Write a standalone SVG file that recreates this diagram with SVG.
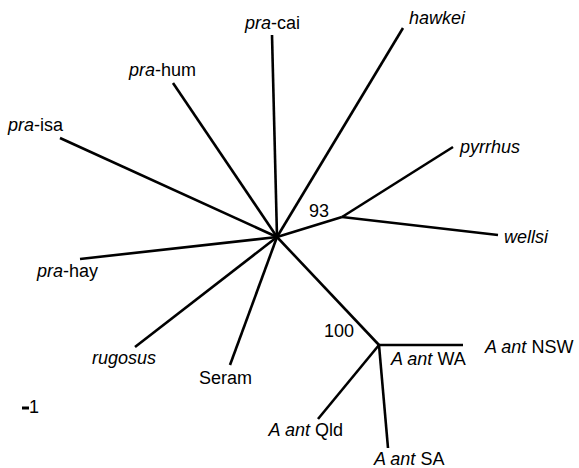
<svg xmlns="http://www.w3.org/2000/svg" width="579" height="468" viewBox="0 0 579 468">
<style>
.e{stroke:#000;stroke-width:2.6;stroke-linecap:butt;fill:none}
text{font-family:"Liberation Sans",Arial,sans-serif;font-size:18px;fill:#000}
.i{font-style:italic}
</style>
<rect width="579" height="468" fill="#fff"/>
<g id="connectors">
<line class="e" x1="277" y1="237" x2="272" y2="35"/>
<line class="e" x1="277" y1="237" x2="173" y2="83"/>
<line class="e" x1="277" y1="237" x2="60" y2="138"/>
<line class="e" x1="277" y1="237" x2="403" y2="28"/>
<line class="e" x1="277" y1="237" x2="342" y2="217"/>
<line class="e" x1="342" y1="217" x2="453" y2="147"/>
<line class="e" x1="342" y1="217" x2="498" y2="235"/>
<line class="e" x1="277" y1="237" x2="80" y2="259"/>
<line class="e" x1="277" y1="237" x2="135" y2="347"/>
<line class="e" x1="277" y1="237" x2="230" y2="365"/>
<line class="e" x1="277" y1="237" x2="379" y2="345"/>
<line class="e" x1="379" y1="345" x2="463" y2="345"/>
<line class="e" x1="379" y1="345" x2="318" y2="419"/>
<line class="e" x1="379" y1="345" x2="388" y2="448"/>
</g>
<g id="pra-cai"><text x="245" y="29"><tspan class="i">pra</tspan>-cai</text></g>
<g id="pra-hum"><text x="129" y="76"><tspan class="i">pra</tspan>-hum</text></g>
<g id="pra-isa"><text x="8" y="131"><tspan class="i">pra</tspan>-isa</text></g>
<g id="hawkei"><text x="409" y="24" class="i">hawkei</text></g>
<g id="pyrrhus"><text x="460" y="153" class="i">pyrrhus</text></g>
<g id="wellsi"><text x="504" y="243" class="i">wellsi</text></g>
<g id="node93"><text x="309" y="217">93</text></g>
<g id="pra-hay"><text x="37" y="277"><tspan class="i">pra</tspan>-hay</text></g>
<g id="rugosus"><text x="92" y="364" class="i">rugosus</text></g>
<g id="seram"><text x="199" y="384">Seram</text></g>
<g id="node100"><text x="324" y="337">100</text></g>
<g id="aant-wa"><text x="391" y="365"><tspan class="i">A ant</tspan> WA</text></g>
<g id="aant-nsw"><text x="485" y="353"><tspan class="i">A ant</tspan> NSW</text></g>
<g id="aant-qld"><text x="343" y="436" text-anchor="end"><tspan class="i">A ant</tspan> Qld</text></g>
<g id="aant-sa"><text x="374" y="465"><tspan class="i">A ant</tspan> SA</text></g>
<g id="scale">
<line x1="22" y1="408" x2="29" y2="408" stroke="#000" stroke-width="3"/>
<text x="29" y="413">1</text>
</g>
</svg>
